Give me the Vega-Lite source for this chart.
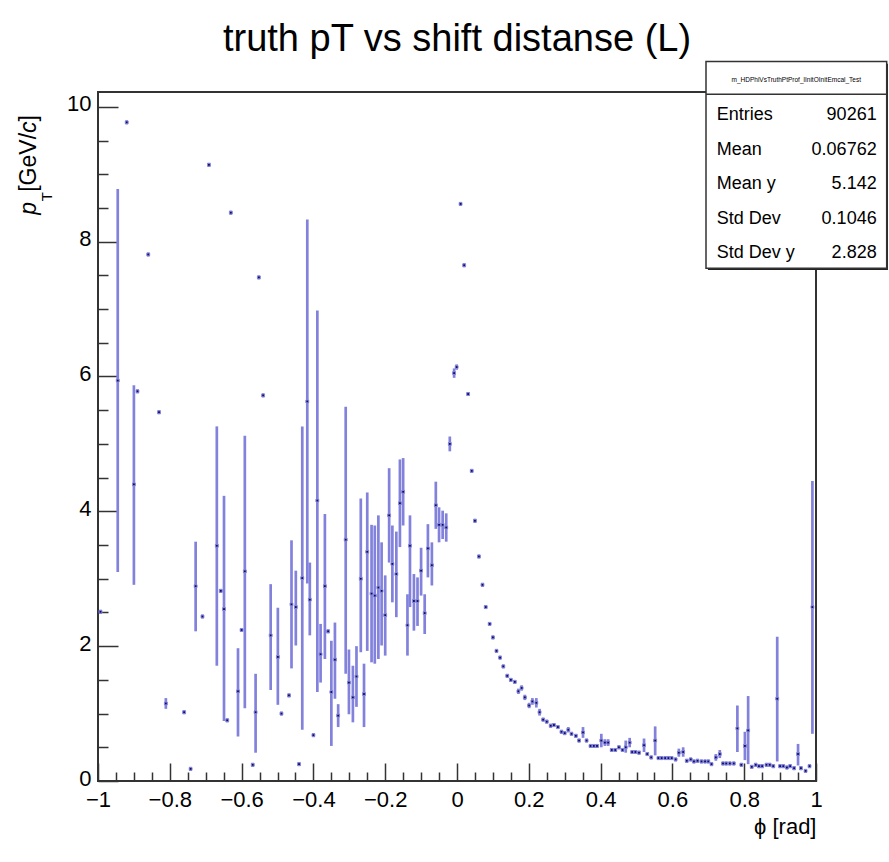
{
  "$schema": "https://vega.github.io/schema/vega-lite/v6.json",
  "width": 718,
  "height": 689,
  "autosize": {"type": "none"},
  "padding": {"left": 98, "top": 92, "right": 73, "bottom": 81},
  "background": "white",
  "title": {"text": "truth pT vs shift distanse (L)", "fontSize": 38, "font": "Liberation Sans", "fontWeight": "normal", "color": "black", "anchor": "middle", "offset": 2},
  "config": {
    "view": {"stroke": "#333333", "strokeWidth": 2},
    "axis": {"grid": false, "domain": false, "labelFont": "Liberation Sans", "titleFont": "Liberation Sans", "labelColor": "black", "titleColor": "black", "tickColor": "#333333", "tickWidth": 1.5}
  },
  "resolve": {"axis": {"x": "independent", "y": "independent"}},
  "datasets": {
    "prof": [
      {"phi": -0.993, "pt": 2.51, "lo": 2.48, "hi": 2.54},
      {"phi": -0.945, "pt": 5.94, "lo": 3.10, "hi": 8.78},
      {"phi": -0.920, "pt": 9.77, "lo": 9.74, "hi": 9.80},
      {"phi": -0.900, "pt": 4.40, "lo": 2.91, "hi": 5.87},
      {"phi": -0.890, "pt": 5.78, "lo": 5.75, "hi": 5.81},
      {"phi": -0.860, "pt": 7.81, "lo": 7.78, "hi": 7.84},
      {"phi": -0.830, "pt": 5.47, "lo": 5.44, "hi": 5.50},
      {"phi": -0.811, "pt": 1.15, "lo": 1.07, "hi": 1.23},
      {"phi": -0.760, "pt": 1.02, "lo": 0.99, "hi": 1.05},
      {"phi": -0.742, "pt": 0.18, "lo": 0.15, "hi": 0.21},
      {"phi": -0.728, "pt": 2.89, "lo": 2.22, "hi": 3.55},
      {"phi": -0.709, "pt": 2.44, "lo": 2.41, "hi": 2.47},
      {"phi": -0.691, "pt": 9.14, "lo": 9.11, "hi": 9.17},
      {"phi": -0.669, "pt": 3.49, "lo": 1.71, "hi": 5.26},
      {"phi": -0.658, "pt": 2.82, "lo": 2.79, "hi": 2.85},
      {"phi": -0.649, "pt": 2.55, "lo": 0.89, "hi": 4.23},
      {"phi": -0.640, "pt": 0.90, "lo": 0.87, "hi": 0.93},
      {"phi": -0.630, "pt": 8.43, "lo": 8.40, "hi": 8.46},
      {"phi": -0.610, "pt": 1.33, "lo": 0.66, "hi": 1.97},
      {"phi": -0.600, "pt": 2.24, "lo": 2.21, "hi": 2.27},
      {"phi": -0.591, "pt": 3.11, "lo": 1.08, "hi": 5.12},
      {"phi": -0.569, "pt": 0.24, "lo": 0.21, "hi": 0.27},
      {"phi": -0.561, "pt": 1.02, "lo": 0.42, "hi": 1.59},
      {"phi": -0.552, "pt": 7.47, "lo": 7.44, "hi": 7.50},
      {"phi": -0.540, "pt": 5.72, "lo": 5.69, "hi": 5.75},
      {"phi": -0.519, "pt": 2.16, "lo": 1.35, "hi": 2.92},
      {"phi": -0.499, "pt": 1.84, "lo": 1.13, "hi": 2.57},
      {"phi": -0.489, "pt": 1.00, "lo": 0.97, "hi": 1.03},
      {"phi": -0.468, "pt": 1.27, "lo": 1.24, "hi": 1.30},
      {"phi": -0.461, "pt": 2.62, "lo": 1.67, "hi": 3.57},
      {"phi": -0.449, "pt": 2.58, "lo": 2.01, "hi": 3.12},
      {"phi": -0.440, "pt": 0.25, "lo": 0.22, "hi": 0.28},
      {"phi": -0.431, "pt": 3.01, "lo": 0.76, "hi": 5.26},
      {"phi": -0.417, "pt": 5.63, "lo": 2.93, "hi": 8.33},
      {"phi": -0.410, "pt": 2.69, "lo": 2.16, "hi": 3.24},
      {"phi": -0.400, "pt": 0.68, "lo": 0.65, "hi": 0.71},
      {"phi": -0.389, "pt": 4.16, "lo": 1.32, "hi": 6.98},
      {"phi": -0.380, "pt": 1.88, "lo": 1.46, "hi": 2.33},
      {"phi": -0.368, "pt": 2.89, "lo": 1.81, "hi": 3.96},
      {"phi": -0.359, "pt": 2.22, "lo": 2.19, "hi": 2.25},
      {"phi": -0.350, "pt": 1.32, "lo": 0.52, "hi": 2.08},
      {"phi": -0.340, "pt": 1.80, "lo": 1.22, "hi": 2.35},
      {"phi": -0.331, "pt": 0.97, "lo": 0.80, "hi": 1.14},
      {"phi": -0.310, "pt": 3.58, "lo": 1.59, "hi": 5.55},
      {"phi": -0.301, "pt": 1.46, "lo": 0.99, "hi": 1.95},
      {"phi": -0.290, "pt": 1.24, "lo": 0.87, "hi": 1.71},
      {"phi": -0.280, "pt": 1.55, "lo": 1.10, "hi": 2.00},
      {"phi": -0.268, "pt": 3.00, "lo": 1.91, "hi": 4.19},
      {"phi": -0.259, "pt": 1.29, "lo": 0.80, "hi": 1.74},
      {"phi": -0.250, "pt": 3.40, "lo": 1.93, "hi": 4.28},
      {"phi": -0.238, "pt": 2.78, "lo": 1.76, "hi": 3.80},
      {"phi": -0.229, "pt": 2.75, "lo": 1.74, "hi": 3.79},
      {"phi": -0.219, "pt": 2.87, "lo": 1.81, "hi": 3.94},
      {"phi": -0.210, "pt": 2.82, "lo": 2.01, "hi": 3.54},
      {"phi": -0.200, "pt": 2.46, "lo": 1.86, "hi": 3.05},
      {"phi": -0.189, "pt": 3.94, "lo": 3.24, "hi": 4.64},
      {"phi": -0.180, "pt": 3.22, "lo": 2.65, "hi": 3.79},
      {"phi": -0.169, "pt": 3.07, "lo": 2.43, "hi": 3.70},
      {"phi": -0.159, "pt": 4.12, "lo": 3.47, "hi": 4.77},
      {"phi": -0.150, "pt": 4.29, "lo": 3.79, "hi": 4.79},
      {"phi": -0.138, "pt": 2.31, "lo": 1.86, "hi": 2.77},
      {"phi": -0.131, "pt": 3.49, "lo": 2.58, "hi": 3.94},
      {"phi": -0.120, "pt": 2.67, "lo": 2.23, "hi": 3.07},
      {"phi": -0.110, "pt": 2.67, "lo": 2.30, "hi": 3.02},
      {"phi": -0.100, "pt": 3.12, "lo": 2.75, "hi": 3.46},
      {"phi": -0.090, "pt": 2.49, "lo": 2.18, "hi": 2.77},
      {"phi": -0.081, "pt": 3.45, "lo": 3.02, "hi": 3.81},
      {"phi": -0.070, "pt": 3.20, "lo": 2.90, "hi": 3.54},
      {"phi": -0.059, "pt": 4.09, "lo": 3.74, "hi": 4.44},
      {"phi": -0.050, "pt": 3.80, "lo": 3.54, "hi": 4.06},
      {"phi": -0.040, "pt": 3.80, "lo": 3.59, "hi": 4.01},
      {"phi": -0.030, "pt": 3.76, "lo": 3.55, "hi": 3.97},
      {"phi": -0.020, "pt": 5.00, "lo": 4.89, "hi": 5.11},
      {"phi": -0.008, "pt": 6.05, "lo": 5.98, "hi": 6.12},
      {"phi": -0.001, "pt": 6.14, "lo": 6.10, "hi": 6.18},
      {"phi": 0.010, "pt": 8.56, "lo": 8.53, "hi": 8.59},
      {"phi": 0.020, "pt": 7.65, "lo": 7.62, "hi": 7.68},
      {"phi": 0.031, "pt": 5.74, "lo": 5.71, "hi": 5.77},
      {"phi": 0.041, "pt": 4.60, "lo": 4.57, "hi": 4.63},
      {"phi": 0.050, "pt": 3.86, "lo": 3.83, "hi": 3.89},
      {"phi": 0.061, "pt": 3.33, "lo": 3.30, "hi": 3.36},
      {"phi": 0.071, "pt": 2.91, "lo": 2.88, "hi": 2.94},
      {"phi": 0.080, "pt": 2.58, "lo": 2.55, "hi": 2.61},
      {"phi": 0.091, "pt": 2.33, "lo": 2.30, "hi": 2.36},
      {"phi": 0.100, "pt": 2.13, "lo": 2.10, "hi": 2.16},
      {"phi": 0.110, "pt": 1.93, "lo": 1.90, "hi": 1.96},
      {"phi": 0.120, "pt": 1.83, "lo": 1.80, "hi": 1.86},
      {"phi": 0.129, "pt": 1.70, "lo": 1.67, "hi": 1.73},
      {"phi": 0.140, "pt": 1.56, "lo": 1.53, "hi": 1.59},
      {"phi": 0.150, "pt": 1.50, "lo": 1.47, "hi": 1.53},
      {"phi": 0.161, "pt": 1.47, "lo": 1.44, "hi": 1.50},
      {"phi": 0.171, "pt": 1.33, "lo": 1.29, "hi": 1.37},
      {"phi": 0.180, "pt": 1.38, "lo": 1.34, "hi": 1.42},
      {"phi": 0.189, "pt": 1.24, "lo": 1.20, "hi": 1.28},
      {"phi": 0.201, "pt": 1.12, "lo": 1.08, "hi": 1.16},
      {"phi": 0.210, "pt": 1.18, "lo": 1.13, "hi": 1.23},
      {"phi": 0.221, "pt": 1.16, "lo": 1.09, "hi": 1.23},
      {"phi": 0.230, "pt": 1.02, "lo": 0.97, "hi": 1.07},
      {"phi": 0.240, "pt": 0.91, "lo": 0.88, "hi": 0.94},
      {"phi": 0.250, "pt": 0.88, "lo": 0.85, "hi": 0.91},
      {"phi": 0.261, "pt": 0.82, "lo": 0.79, "hi": 0.85},
      {"phi": 0.270, "pt": 0.83, "lo": 0.80, "hi": 0.86},
      {"phi": 0.281, "pt": 0.80, "lo": 0.77, "hi": 0.83},
      {"phi": 0.291, "pt": 0.73, "lo": 0.70, "hi": 0.76},
      {"phi": 0.300, "pt": 0.71, "lo": 0.68, "hi": 0.74},
      {"phi": 0.310, "pt": 0.76, "lo": 0.72, "hi": 0.80},
      {"phi": 0.319, "pt": 0.70, "lo": 0.67, "hi": 0.73},
      {"phi": 0.331, "pt": 0.67, "lo": 0.64, "hi": 0.70},
      {"phi": 0.340, "pt": 0.60, "lo": 0.57, "hi": 0.63},
      {"phi": 0.351, "pt": 0.72, "lo": 0.64, "hi": 0.80},
      {"phi": 0.361, "pt": 0.60, "lo": 0.57, "hi": 0.63},
      {"phi": 0.372, "pt": 0.52, "lo": 0.49, "hi": 0.55},
      {"phi": 0.381, "pt": 0.52, "lo": 0.49, "hi": 0.55},
      {"phi": 0.390, "pt": 0.52, "lo": 0.49, "hi": 0.55},
      {"phi": 0.402, "pt": 0.60, "lo": 0.50, "hi": 0.70},
      {"phi": 0.412, "pt": 0.57, "lo": 0.52, "hi": 0.62},
      {"phi": 0.421, "pt": 0.57, "lo": 0.52, "hi": 0.62},
      {"phi": 0.431, "pt": 0.46, "lo": 0.43, "hi": 0.49},
      {"phi": 0.441, "pt": 0.46, "lo": 0.43, "hi": 0.49},
      {"phi": 0.451, "pt": 0.50, "lo": 0.47, "hi": 0.53},
      {"phi": 0.461, "pt": 0.46, "lo": 0.43, "hi": 0.49},
      {"phi": 0.470, "pt": 0.50, "lo": 0.42, "hi": 0.60},
      {"phi": 0.481, "pt": 0.57, "lo": 0.50, "hi": 0.64},
      {"phi": 0.488, "pt": 0.43, "lo": 0.40, "hi": 0.46},
      {"phi": 0.497, "pt": 0.43, "lo": 0.40, "hi": 0.46},
      {"phi": 0.507, "pt": 0.42, "lo": 0.39, "hi": 0.45},
      {"phi": 0.521, "pt": 0.53, "lo": 0.43, "hi": 0.63},
      {"phi": 0.530, "pt": 0.40, "lo": 0.37, "hi": 0.43},
      {"phi": 0.541, "pt": 0.35, "lo": 0.32, "hi": 0.38},
      {"phi": 0.552, "pt": 0.60, "lo": 0.38, "hi": 0.81},
      {"phi": 0.561, "pt": 0.34, "lo": 0.31, "hi": 0.37},
      {"phi": 0.570, "pt": 0.34, "lo": 0.31, "hi": 0.37},
      {"phi": 0.580, "pt": 0.34, "lo": 0.31, "hi": 0.37},
      {"phi": 0.589, "pt": 0.34, "lo": 0.31, "hi": 0.37},
      {"phi": 0.598, "pt": 0.34, "lo": 0.31, "hi": 0.37},
      {"phi": 0.609, "pt": 0.32, "lo": 0.29, "hi": 0.35},
      {"phi": 0.618, "pt": 0.42, "lo": 0.36, "hi": 0.48},
      {"phi": 0.630, "pt": 0.43, "lo": 0.36, "hi": 0.50},
      {"phi": 0.640, "pt": 0.30, "lo": 0.27, "hi": 0.33},
      {"phi": 0.651, "pt": 0.32, "lo": 0.29, "hi": 0.35},
      {"phi": 0.660, "pt": 0.29, "lo": 0.26, "hi": 0.32},
      {"phi": 0.670, "pt": 0.30, "lo": 0.27, "hi": 0.33},
      {"phi": 0.681, "pt": 0.29, "lo": 0.26, "hi": 0.32},
      {"phi": 0.691, "pt": 0.29, "lo": 0.26, "hi": 0.32},
      {"phi": 0.700, "pt": 0.29, "lo": 0.26, "hi": 0.32},
      {"phi": 0.709, "pt": 0.25, "lo": 0.22, "hi": 0.28},
      {"phi": 0.721, "pt": 0.35, "lo": 0.30, "hi": 0.40},
      {"phi": 0.732, "pt": 0.40, "lo": 0.34, "hi": 0.46},
      {"phi": 0.741, "pt": 0.26, "lo": 0.23, "hi": 0.29},
      {"phi": 0.750, "pt": 0.26, "lo": 0.23, "hi": 0.29},
      {"phi": 0.760, "pt": 0.26, "lo": 0.23, "hi": 0.29},
      {"phi": 0.771, "pt": 0.26, "lo": 0.23, "hi": 0.29},
      {"phi": 0.781, "pt": 0.78, "lo": 0.43, "hi": 1.12},
      {"phi": 0.792, "pt": 0.24, "lo": 0.21, "hi": 0.27},
      {"phi": 0.802, "pt": 0.52, "lo": 0.31, "hi": 0.73},
      {"phi": 0.811, "pt": 0.75, "lo": 0.25, "hi": 1.26},
      {"phi": 0.821, "pt": 0.21, "lo": 0.18, "hi": 0.24},
      {"phi": 0.832, "pt": 0.24, "lo": 0.21, "hi": 0.27},
      {"phi": 0.841, "pt": 0.22, "lo": 0.19, "hi": 0.25},
      {"phi": 0.850, "pt": 0.22, "lo": 0.19, "hi": 0.25},
      {"phi": 0.862, "pt": 0.24, "lo": 0.21, "hi": 0.27},
      {"phi": 0.871, "pt": 0.24, "lo": 0.21, "hi": 0.27},
      {"phi": 0.881, "pt": 0.22, "lo": 0.19, "hi": 0.25},
      {"phi": 0.892, "pt": 1.22, "lo": 0.29, "hi": 2.14},
      {"phi": 0.900, "pt": 0.22, "lo": 0.19, "hi": 0.25},
      {"phi": 0.909, "pt": 0.22, "lo": 0.19, "hi": 0.25},
      {"phi": 0.919, "pt": 0.20, "lo": 0.17, "hi": 0.23},
      {"phi": 0.928, "pt": 0.22, "lo": 0.19, "hi": 0.25},
      {"phi": 0.939, "pt": 0.19, "lo": 0.16, "hi": 0.22},
      {"phi": 0.950, "pt": 0.40, "lo": 0.23, "hi": 0.55},
      {"phi": 0.958, "pt": 0.19, "lo": 0.16, "hi": 0.22},
      {"phi": 0.971, "pt": 0.15, "lo": 0.12, "hi": 0.18},
      {"phi": 0.982, "pt": 0.22, "lo": 0.19, "hi": 0.25},
      {"phi": 0.990, "pt": 2.58, "lo": 0.70, "hi": 4.45}
    ]
  },
  "layer": [
    {
      "data": {"name": "prof"},
      "mark": {"type": "rule", "color": "#8282dc", "strokeWidth": 2.7},
      "encoding": {
        "x": {"field": "phi", "type": "quantitative", "scale": {"domain": [-1, 1], "nice": false, "zero": false},
          "axis": {"orient": "bottom", "values": [-1, -0.8, -0.6, -0.4, -0.2, 0, 0.2, 0.4, 0.6, 0.8, 1], "format": "~g", "tickSize": -18, "labelPadding": 26, "labelFontSize": 22, "labelFlush": false, "labelOverlap": false, "title": "ϕ [rad]", "titleFontSize": 22, "titleFontWeight": "normal", "titleAnchor": "end", "titlePadding": 6}},
        "y": {"field": "lo", "type": "quantitative", "scale": {"domain": [0, 10.22], "nice": false, "zero": false},
          "axis": {"orient": "left", "values": [0, 2, 4, 6, 8, 10], "format": "d", "tickSize": -20, "labelPadding": 27, "labelOffset": -3, "labelFontSize": 22, "labelOverlap": false, "title": null}},
        "y2": {"field": "hi"}
      }
    },
    {
      "data": {"name": "prof"},
      "mark": {"type": "point", "shape": "square", "filled": true, "size": 8, "fill": "#0d0d66", "stroke": "#8a8ade", "strokeWidth": 1, "opacity": 1},
      "encoding": {
        "x": {"field": "phi", "type": "quantitative", "scale": {"domain": [-1, 1], "nice": false, "zero": false},
          "axis": {"orient": "bottom", "values": [-0.95, -0.9, -0.85, -0.75, -0.7, -0.65, -0.55, -0.5, -0.45, -0.35, -0.3, -0.25, -0.15, -0.1, -0.05, 0.05, 0.1, 0.15, 0.25, 0.3, 0.35, 0.45, 0.5, 0.55, 0.65, 0.7, 0.75, 0.85, 0.9, 0.95], "tickSize": -9, "labels": false, "title": null}},
        "y": {"field": "pt", "type": "quantitative", "scale": {"domain": [0, 10.22], "nice": false, "zero": false},
          "axis": {"orient": "left", "values": [0.5, 1, 1.5, 2.5, 3, 3.5, 4.5, 5, 5.5, 6.5, 7, 7.5, 8.5, 9, 9.5], "tickSize": -10, "labels": false, "title": null}}
      }
    },
    {
      "data": {"values": [{}]},
      "mark": {"type": "rect", "fill": "#222222"},
      "encoding": {
        "x": {"datum": 0.699, "type": "quantitative", "scale": {"domain": [-1, 1], "nice": false, "zero": false}, "axis": null},
        "x2": {"datum": 1.2005},
        "y": {"datum": 10.64, "type": "quantitative", "scale": {"domain": [0, 10.22], "nice": false, "zero": false}, "axis": null},
        "y2": {"datum": 7.578}
      }
    },
    {
      "data": {"values": [{}]},
      "mark": {"type": "rect", "fill": "white", "stroke": "#333333", "strokeWidth": 1.5},
      "encoding": {
        "x": {"datum": 0.6936, "type": "quantitative", "scale": {"domain": [-1, 1], "nice": false, "zero": false}, "axis": null},
        "x2": {"datum": 1.1969},
        "y": {"datum": 10.672, "type": "quantitative", "scale": {"domain": [0, 10.22], "nice": false, "zero": false}, "axis": null},
        "y2": {"datum": 7.607}
      }
    },
    {
      "data": {"values": [{}]},
      "mark": {"type": "rule", "color": "#333333", "strokeWidth": 1.5},
      "encoding": {
        "x": {"datum": 0.6936, "type": "quantitative", "scale": {"domain": [-1, 1], "nice": false, "zero": false}, "axis": null},
        "x2": {"datum": 1.1969},
        "y": {"datum": 10.188, "type": "quantitative", "scale": {"domain": [0, 10.22], "nice": false, "zero": false}, "axis": null}
      }
    },
    {
      "data": {"values": [{}]},
      "mark": {"type": "text", "text": "m_HDPhiVsTruthPtProf_lInitOInitEmcal_Test", "font": "Liberation Sans", "fontSize": 6.5, "color": "black", "align": "center", "baseline": "middle"},
      "encoding": {
        "x": {"datum": 0.945, "type": "quantitative", "scale": {"domain": [-1, 1], "nice": false, "zero": false}, "axis": null},
        "y": {"datum": 10.40, "type": "quantitative", "scale": {"domain": [0, 10.22], "nice": false, "zero": false}, "axis": null}
      }
    },
    {
      "data": {"values": [{}]},
      "mark": {"type": "text", "text": ["Entries", "Mean", "Mean y", "Std Dev", "Std Dev y"], "lineHeight": 34.4, "font": "Liberation Sans", "fontSize": 18, "color": "black", "align": "left", "baseline": "alphabetic"},
      "encoding": {
        "x": {"datum": 0.7234, "type": "quantitative", "scale": {"domain": [-1, 1], "nice": false, "zero": false}, "axis": null},
        "y": {"datum": 9.8, "type": "quantitative", "scale": {"domain": [0, 10.22], "nice": false, "zero": false}, "axis": null}
      }
    },
    {
      "data": {"values": [{}]},
      "mark": {"type": "text", "text": ["90261", "0.06762", "5.142", "0.1046", "2.828"], "lineHeight": 34.4, "font": "Liberation Sans", "fontSize": 18, "color": "black", "align": "right", "baseline": "alphabetic"},
      "encoding": {
        "x": {"datum": 1.169, "type": "quantitative", "scale": {"domain": [-1, 1], "nice": false, "zero": false}, "axis": null},
        "y": {"datum": 9.8, "type": "quantitative", "scale": {"domain": [0, 10.22], "nice": false, "zero": false}, "axis": null}
      }
    },
    {
      "data": {"values": [{}]},
      "mark": {"type": "text", "text": "p", "font": "Liberation Sans", "fontStyle": "italic", "fontSize": 23, "color": "black", "angle": 270, "align": "left", "baseline": "alphabetic"},
      "encoding": {
        "x": {"datum": -1.1727, "type": "quantitative", "scale": {"domain": [-1, 1], "nice": false, "zero": false}, "axis": null},
        "y": {"datum": 8.40, "type": "quantitative", "scale": {"domain": [0, 10.22], "nice": false, "zero": false}, "axis": null}
      }
    },
    {
      "data": {"values": [{}]},
      "mark": {"type": "text", "text": "T", "font": "Liberation Sans", "fontSize": 15, "color": "black", "angle": 270, "align": "left", "baseline": "alphabetic"},
      "encoding": {
        "x": {"datum": -1.1281, "type": "quantitative", "scale": {"domain": [-1, 1], "nice": false, "zero": false}, "axis": null},
        "y": {"datum": 8.60, "type": "quantitative", "scale": {"domain": [0, 10.22], "nice": false, "zero": false}, "axis": null}
      }
    },
    {
      "data": {"values": [{}]},
      "mark": {"type": "text", "text": "[GeV/", "font": "Liberation Sans", "fontSize": 23, "color": "black", "angle": 270, "align": "left", "baseline": "alphabetic"},
      "encoding": {
        "x": {"datum": -1.1727, "type": "quantitative", "scale": {"domain": [-1, 1], "nice": false, "zero": false}, "axis": null},
        "y": {"datum": 8.74, "type": "quantitative", "scale": {"domain": [0, 10.22], "nice": false, "zero": false}, "axis": null}
      }
    },
    {
      "data": {"values": [{}]},
      "mark": {"type": "text", "text": "c", "font": "Liberation Sans", "fontStyle": "italic", "fontSize": 23, "color": "black", "angle": 270, "align": "left", "baseline": "alphabetic"},
      "encoding": {
        "x": {"datum": -1.1727, "type": "quantitative", "scale": {"domain": [-1, 1], "nice": false, "zero": false}, "axis": null},
        "y": {"datum": 9.613, "type": "quantitative", "scale": {"domain": [0, 10.22], "nice": false, "zero": false}, "axis": null}
      }
    },
    {
      "data": {"values": [{}]},
      "mark": {"type": "text", "text": "]", "font": "Liberation Sans", "fontSize": 23, "color": "black", "angle": 270, "align": "left", "baseline": "alphabetic"},
      "encoding": {
        "x": {"datum": -1.1727, "type": "quantitative", "scale": {"domain": [-1, 1], "nice": false, "zero": false}, "axis": null},
        "y": {"datum": 9.784, "type": "quantitative", "scale": {"domain": [0, 10.22], "nice": false, "zero": false}, "axis": null}
      }
    }
  ]
}
